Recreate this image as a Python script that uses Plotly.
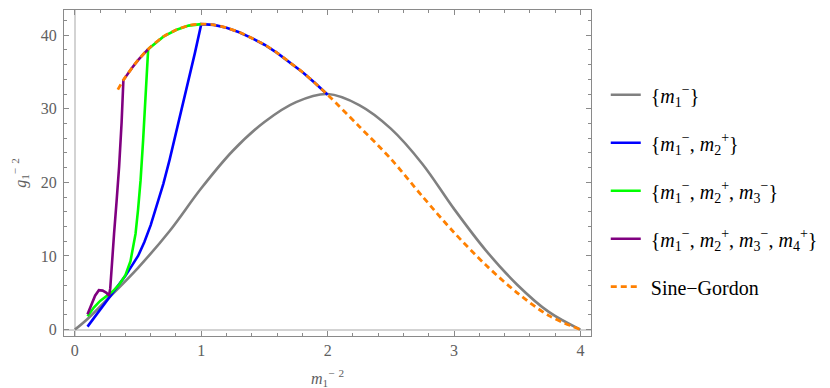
import plotly.graph_objects as go

# values
gray_x = [0, 0.1, 0.25, 0.5, 0.75, 1.0, 1.25, 1.5, 1.75, 2.0, 2.25, 2.5, 2.75, 3.0, 3.25, 3.5, 3.75, 4.0]
gray_y = [0, 1.45, 4.0, 8.4, 13.4, 19.2, 24.3, 28.2, 30.9, 32.0, 30.5, 27.3, 22.5, 16.4, 10.8, 6.1, 2.4, 0]

sg_x = [0.34, 0.384, 0.45, 0.5, 0.58, 0.7, 0.8, 0.9, 1.0, 1.1, 1.2, 1.3, 1.4, 1.5, 1.6, 1.7, 1.8, 1.9, 2.0,
        2.25, 2.5, 2.75, 3.0, 3.25, 3.5, 3.75, 4.0]
sg_y = [32.6, 33.9, 35.5, 36.6, 38.1, 39.8, 40.7, 41.3, 41.5, 41.4, 41.0, 40.4, 39.6, 38.7, 37.6, 36.3, 35.0, 33.5, 31.9,
        27.6, 23.2, 18.1, 13.2, 8.8, 5.0, 1.9, 0.0]

blue_x = [0.1, 0.2, 0.3, 0.4, 0.5, 0.55, 0.6, 0.65, 0.7, 0.75, 0.8, 0.85, 0.9, 0.95, 1.0]
blue_y = [0.4, 2.7, 5.0, 7.3, 10.0, 11.9, 14.2, 16.9, 19.8, 23.1, 26.7, 30.2, 33.8, 37.6, 41.5]

green_x = [0.1, 0.15, 0.2, 0.25, 0.3, 0.35, 0.4, 0.44, 0.48, 0.5, 0.52, 0.54, 0.56, 0.58]
green_y = [1.8, 3.0, 3.9, 4.5, 5.2, 6.1, 7.4, 9.3, 13.0, 16.3, 20.3, 25.7, 32.0, 38.1]

purple_x = [0.1, 0.13, 0.16, 0.19, 0.22, 0.25, 0.27, 0.28, 0.29, 0.31, 0.33, 0.35, 0.37, 0.384]
purple_y = [2.1, 3.3, 4.6, 5.35, 5.3, 5.0, 4.6, 5.6, 8.4, 13.0, 17.4, 22.1, 28.2, 33.9]

# where each branch leaves the Sine-Gordon curve
branch_end = {"blue": 2.0, "green": 1.0, "purple": 0.58}

M1 = "<i>m</i><sub>1</sub><sup>−</sup>"
M2 = "<i>m</i><sub>2</sub><sup>+</sup>"
M3 = "<i>m</i><sub>3</sub><sup>−</sup>"
M4 = "<i>m</i><sub>4</sub><sup>+</sup>"
labels = [
    "{" + M1 + "}",
    "{" + M1 + ", " + M2 + "}",
    "{" + M1 + ", " + M2 + ", " + M3 + "}",
    "{" + M1 + ", " + M2 + ", " + M3 + ", " + M4 + "}",
    "Sine−Gordon",
]

SERIF = "Liberation Serif"
FRAME = "#8a8a8a"
TICKTXT = "#606060"


def with_tail(xs, ys, stop):
    start = xs[-1]
    tail = [(x, y) for x, y in zip(sg_x, sg_y) if start < x <= stop + 1e-9]
    return xs + [p[0] for p in tail], ys + [p[1] for p in tail]


fig = go.Figure()
fig.add_trace(go.Scatter(x=gray_x, y=gray_y, mode="lines", name=labels[0],
                         line=dict(color="#808080", width=2.6, shape="spline", smoothing=1.0)))

for key, xs, ys, color, label in [
    ("blue", blue_x, blue_y, "#0000ff", labels[1]),
    ("green", green_x, green_y, "#00ff00", labels[2]),
    ("purple", purple_x, purple_y, "#800080", labels[3]),
]:
    bx, by = with_tail(xs, ys, branch_end[key])
    fig.add_trace(go.Scatter(x=bx, y=by, mode="lines", name=label, line=dict(color=color, width=2.6)))

fig.add_trace(go.Scatter(x=sg_x, y=sg_y, mode="lines", name=labels[4],
                         line=dict(color="#ff8000", width=2.8, dash="6px,4px", shape="spline", smoothing=0.9)))

for i, tr in enumerate(fig.data):
    tr.legendgroup = f"g{i}"
    tr.name = "\u00a0" + tr.name

axis_common = dict(
    showline=True, linecolor=FRAME, linewidth=1, mirror="allticks",
    ticks="inside", ticklen=5, tickcolor=FRAME, tickwidth=1,
    showgrid=False, zeroline=True, zerolinecolor="#d3d3d3", zerolinewidth=1.5,
    automargin=False,
    tickfont=dict(family=SERIF, size=16, color=TICKTXT),
    title_font=dict(family=SERIF, size=16, color=TICKTXT),
)

fig.update_xaxes(
    range=[-0.086, 4.084], tick0=0, dtick=1,
    minor=dict(ticks="inside", ticklen=3, dtick=0.2, tickcolor=FRAME),
    title_text="<i>m</i><sub>1</sub><sup>−</sup> <sup>2</sup>", title_standoff=14,
    **axis_common,
)
fig.update_yaxes(
    range=[-0.87, 43.42], tick0=0, dtick=10,
    minor=dict(ticks="inside", ticklen=3, dtick=2, tickcolor=FRAME),
    title_text="<i>g</i><sub>1</sub><sup>−</sup> <sup>2</sup>", title_standoff=10,
    ticklabelstandoff=3,
    **axis_common,
)

fig.update_layout(
    width=830, height=388,
    margin=dict(l=56, r=247, t=2, b=60, autoexpand=False),
    font=dict(family=SERIF),
    plot_bgcolor="white", paper_bgcolor="white",
    legend=dict(
        x=1.028, xanchor="left", y=0.80, yanchor="top",
        font=dict(family=SERIF, size=20, color="black"),
        traceorder="grouped", tracegroupgap=19, itemwidth=30,
        bgcolor="rgba(0,0,0,0)",
    ),
)

fig.write_html("out.html")
